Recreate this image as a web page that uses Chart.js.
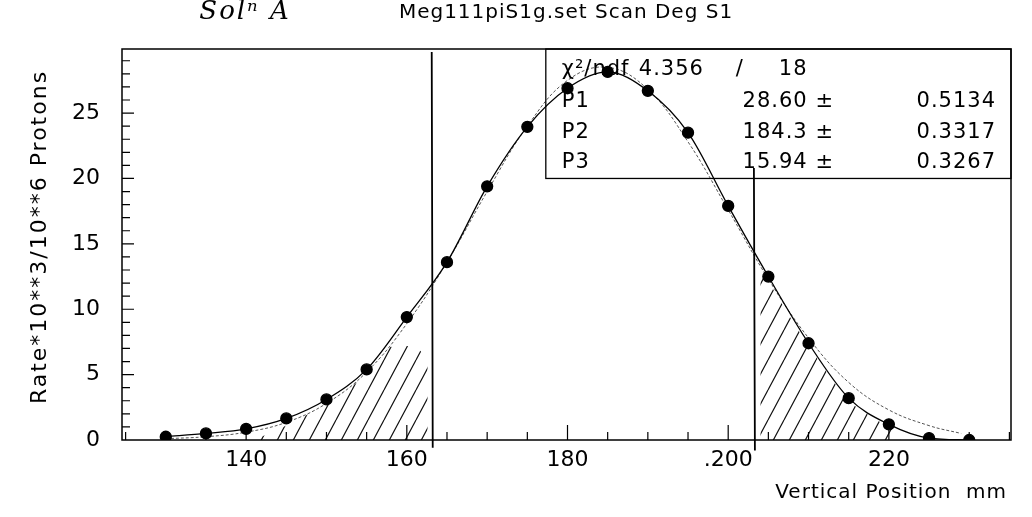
<!DOCTYPE html>
<html><head><meta charset="utf-8">
<script src="https://cdn.jsdelivr.net/npm/chart.js@4.4.0/dist/chart.umd.min.js"></script>
<style>html,body{margin:0;padding:0;background:#fff;}canvas{display:block;}</style>
</head><body>
<canvas id="c" width="1032" height="517"></canvas>
<script>
// ---- data ----
const positions = [130,135,140,145,150,155,160,165,170,175,180,185,190,195,200,205,210,215,220,225,230];
const rates     = [0.25,0.5,0.85,1.65,3.1,5.4,9.4,13.6,19.4,23.95,26.9,28.15,26.7,23.5,17.9,12.5,7.4,3.2,1.2,0.15,0.0];
const fitPositions = [130,135,140,145,150,155,160,165,170,175,180,185,190,195,200,205,210,215,220,225,229];
const fitRates     = [0.1,0.25,0.6,1.35,2.8,5.2,8.9,13.6,19.0,24.0,27.5,28.5,26.8,22.8,17.6,12.3,7.8,4.4,2.3,1.1,0.5];
const hatchLeftX  = [141,145,150,155,157.5,161,162.6];
const hatchLeftY  = [0,1.1,2.8,5.0,7.0,7.1,6.2];
const hatchRightX = [204,205,207.5,210,212.5,215,217.5,220,221.5];
const hatchRightY = [12.9,12.1,9.6,7.2,5.0,3.0,1.9,1.0,0.5];
const cutPositions = [163.1,203.2];
const xTickValues = [140,160,180,200,220];
const xTickLabels = ['140','160','180','.200','220'];
const yTickValues = [0,5,10,15,20,25];
const yTickLabels = ['0','5','10','15','20','25'];
const titleText = 'Meg111piS1g.set Scan Deg S1';
const noteText = 'Solⁿ A';
const xTitle = 'Vertical Position  mm';
const yTitle = 'Rate*10**3/10**6 Protons';
const statsNames  = ['P1','P2','P3'];
const statsValues = ['28.60','184.3','15.94'];
const statsErrors = ['0.5134','0.3317','0.3267'];
const chi2Value = '4.356';
const ndfValue = '18';

const FONT = '"DejaVu Sans", sans-serif';
const ctx = document.getElementById('c').getContext('2d');

function hatchPattern(){
  const w = 16, h = 30;
  const c = document.createElement('canvas');
  c.width = w; c.height = h;
  const g = c.getContext('2d');
  g.strokeStyle = '#111'; g.lineWidth = 1.2;
  g.beginPath();
  g.moveTo(-w,h); g.lineTo(0,0);
  g.moveTo(0,h); g.lineTo(w,0);
  g.moveTo(w,h); g.lineTo(2*w,0);
  g.stroke();
  return ctx.createPattern(c,'repeat');
}
const pattern = hatchPattern();
const pts = (xs,ys)=>xs.map((x,i)=>({x:x,y:ys[i]}));

const decor = {
  id:'decor',
  beforeDraw(chart){
    const c = chart.ctx; c.save(); c.fillStyle='#fff'; c.fillRect(0,0,chart.width,chart.height); c.restore();
  },
  afterDatasetsDraw(chart){
    const c = chart.ctx, a = chart.chartArea, xs = chart.scales.x, ys = chart.scales.y;
    c.save();
    c.strokeStyle = '#000'; c.fillStyle = '#000';
    // frame
    c.lineWidth = 1.5;
    c.strokeRect(a.left, a.top, a.right-a.left, a.bottom-a.top);
    // inward ticks
    c.lineWidth = 1.2;
    c.beginPath();
    for (let v = 125; v <= 235; v += 5) {
      const px = xs.getPixelForValue(v);
      const len = (v % 20 === 0) ? 15 : 8;
      c.moveTo(px, a.bottom); c.lineTo(px, a.bottom - len);
    }
    for (let v = 1; v <= 29; v += 1) {
      const py = ys.getPixelForValue(v);
      const len = (v % 5 === 0) ? 12 : 8;
      c.moveTo(a.left, py); c.lineTo(a.left + len, py);
    }
    c.stroke();
    // cut lines
    c.lineWidth = 1.8;
    c.beginPath();
    let px = xs.getPixelForValue(cutPositions[0]);
    c.moveTo(px, a.top + 3); c.lineTo(px + 1, ys.getPixelForValue(-0.6));
    px = xs.getPixelForValue(cutPositions[1]);
    c.moveTo(px, ys.getPixelForValue(20.8)); c.lineTo(px + 1, ys.getPixelForValue(-0.8));
    c.stroke();
    // stats box
    const L = xs.getPixelForValue(177.3), B = ys.getPixelForValue(20.0), T = a.top, R = a.right;
    c.lineWidth = 1.3;
    c.strokeRect(L, T, R-L, B-T);
    c.font = '21px ' + FONT;
    c.textBaseline = 'middle';
    c.letterSpacing = '1px';
    c.textAlign = 'left';
    c.fillText('χ²/ndf', L+16, T+21);
    c.fillText(chi2Value, L+93, T+21);
    c.fillText('/', L+190, T+21);
    c.fillText(ndfValue, L+233, T+21);
    for (let i = 0; i < 3; i++) {
      const y = T + 53 + i*30.5;
      c.textAlign = 'left';
      c.fillText(statsNames[i], L+16, y);
      c.textAlign = 'right';
      c.fillText(statsValues[i] + ' ±', R-177, y);
      c.fillText(statsErrors[i], R-15, y);
    }
    // titles
    c.textAlign = 'center';
    c.font = '20px ' + FONT;
    c.fillText(titleText, 566, 13);
    c.font = 'italic 26px "DejaVu Serif", serif';
    c.letterSpacing = '2px';
    c.fillText(noteText, 245, 12);
    c.font = '20px ' + FONT;
    c.letterSpacing = '1px';
    c.textAlign = 'right';
    c.fillText(xTitle, 1007, 493);
    c.save();
    c.translate(40, 237);
    c.rotate(-Math.PI/2);
    c.textAlign = 'center';
    c.font = '22px ' + FONT;
    c.letterSpacing = '2px';
    c.fillText(yTitle, 0, 0);
    c.restore();
    c.restore();
  }
};

new Chart(ctx, {
  type: 'line',
  data: {
    datasets: [
      {data: pts(hatchLeftX, hatchLeftY), borderWidth: 0, pointRadius: 0, fill: 'origin', backgroundColor: pattern, tension: 0.3, order: 4},
      {data: pts(hatchRightX, hatchRightY), borderWidth: 0, pointRadius: 0, fill: 'origin', backgroundColor: pattern, tension: 0.3, order: 3},
      {data: pts(fitPositions, fitRates), borderColor: '#555', borderWidth: 1, borderDash: [3,2], pointRadius: 0, fill: false, tension: 0.4, order: 2},
      {data: pts(positions, rates), borderColor: '#000', borderWidth: 1.3, pointRadius: 5.5, pointBackgroundColor: '#000', pointBorderColor: '#000', fill: false, cubicInterpolationMode: 'monotone', order: 1}
    ]
  },
  options: {
    responsive: false, animation: false, devicePixelRatio: 1,
    layout: {padding: {left: 0, top: 49, right: 21, bottom: 0}},
    plugins: {legend: {display: false}, tooltip: {enabled: false}},
    scales: {
      x: {
        type: 'linear', min: 124.55, max: 235.2,
        grid: {display: false, drawTicks: false}, border: {display: false},
        afterFit(s){ s.height = 77; },
        afterBuildTicks(s){ s.ticks = xTickValues.map(v=>({value:v})); },
        ticks: {padding: 7, color: '#000', font: {family: FONT, size: 22}, maxRotation: 0, autoSkip: false,
          callback: (v)=>{ const i = xTickValues.indexOf(v); return i>=0 ? xTickLabels[i] : ''; }}
      },
      y: {
        type: 'linear', min: 0, max: 29.9,
        grid: {display: false, drawTicks: false}, border: {display: false},
        afterFit(s){ s.width = 122; },
        afterBuildTicks(s){ s.ticks = yTickValues.map(v=>({value:v})); },
        ticks: {padding: 22, color: '#000', font: {family: FONT, size: 22}, autoSkip: false,
          callback: (v)=>{ const i = yTickValues.indexOf(v); return i>=0 ? yTickLabels[i] : ''; }}
      }
    }
  },
  plugins: [decor]
});
</script>
</body></html>
